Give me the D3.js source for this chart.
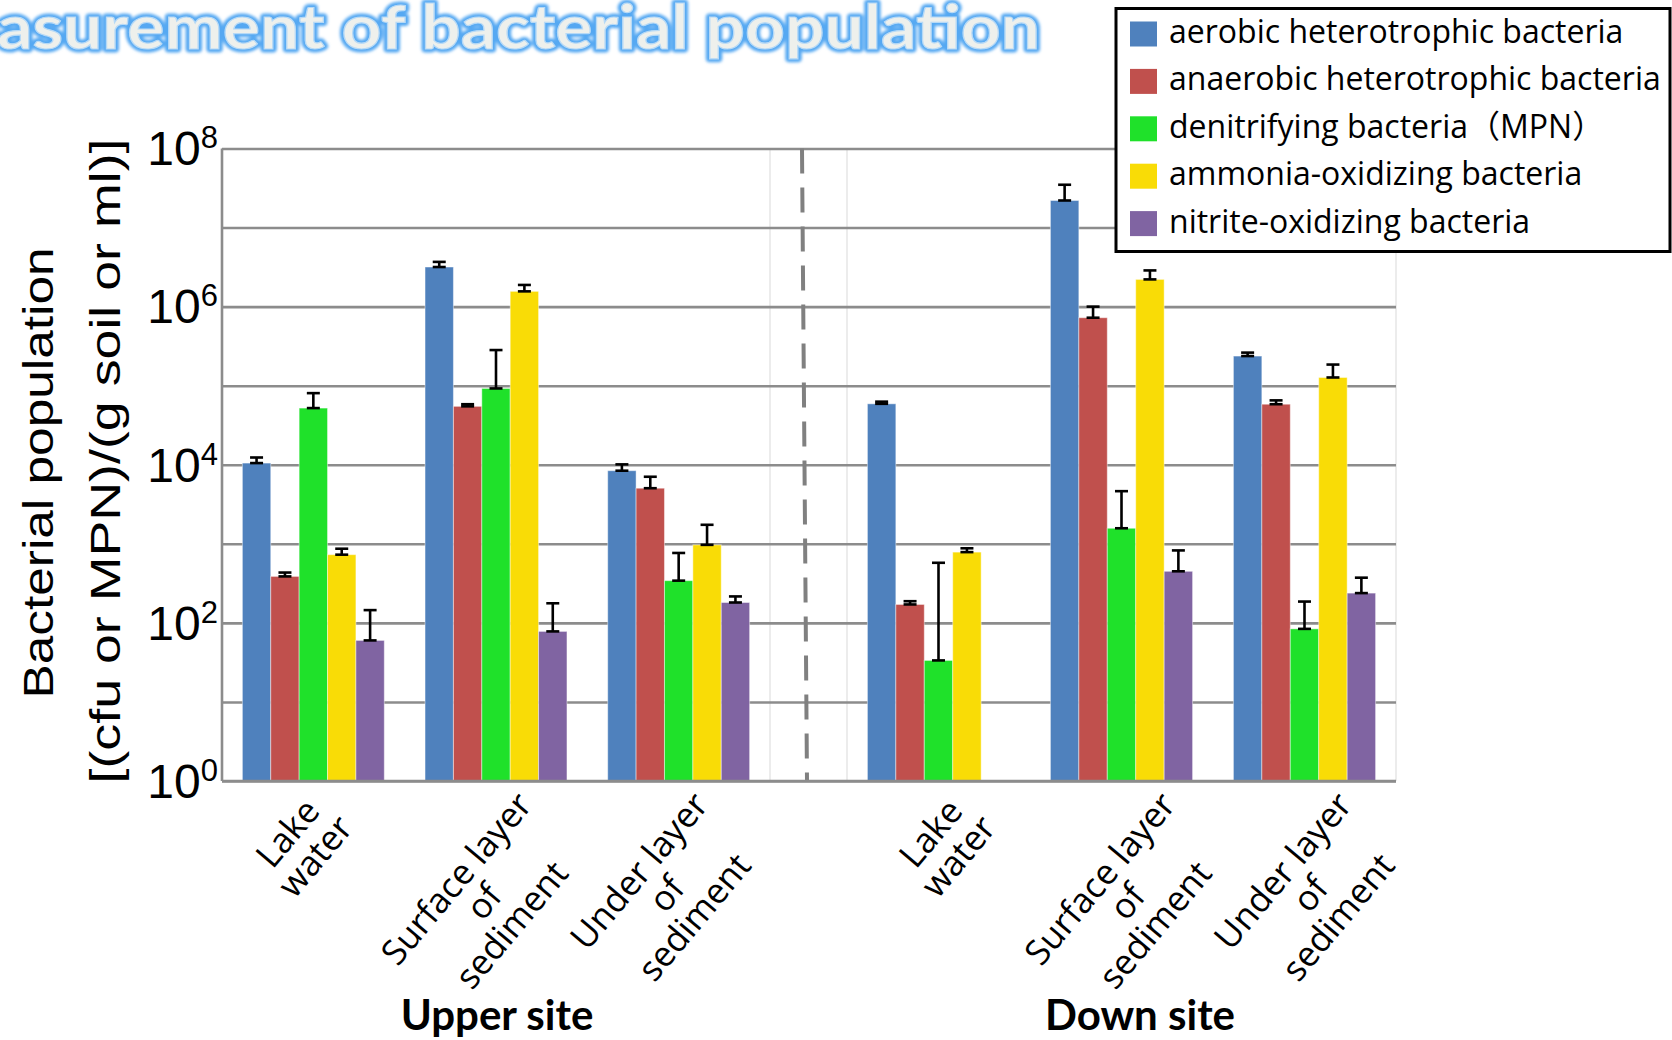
<!DOCTYPE html>
<html><head><meta charset="utf-8">
<script src="https://cdn.jsdelivr.net/npm/d3@7"></script>
<style>body{margin:0;background:#fff;overflow:hidden} svg{display:block}</style>
</head><body>
<svg id="c" width="1672" height="1040"></svg>
<script>
// ---------- data ----------
const titleText = "Measurement of bacterial population";
const categories = ["Lake water", "Surface layer of sediment", "Under layer of sediment"];
const categoryLines = [["Lake", "water"], ["Surface layer", "of", "sediment"], ["Under layer", "of", "sediment"]];
const sites = ["Upper site", "Down site"];
const series = ["aerobic heterotrophic bacteria", "anaerobic heterotrophic bacteria",
  "denitrifying bacteria（MPN）", "ammonia-oxidizing bacteria", "nitrite-oxidizing bacteria"];
const seriesColors = ["#4f81bd", "#c0504d", "#1fe12a", "#f9dc06", "#8064a2"];
// values per category (rows) and series (columns)
const upperValues = [
  [10500, 387, 52100, 729, 60],
  [3170000, 54800, 92300, 1560000, 78],
  [8410, 5050, 342, 970, 181]
];
const upperErrors = [
  [1850, 46, 28400, 138, 85],
  [510000, 3500, 190000, 320000, 99],
  [1700, 2000, 424, 770, 35]
];
const downValues = [
  [59000, 171, 33.5, 785, null],
  [22000000, 724000, 1573, 2210000, 449],
  [237000, 58300, 84, 127000, 238]
];
const downErrors = [
  [3800, 17, 542, 93, null],
  [12800000, 276000, 3060, 660000, 376],
  [25000, 6900, 102, 58000, 135]
];
const decades = [1, 1e1, 1e2, 1e3, 1e4, 1e5, 1e6, 1e7, 1e8];
const labelledDecades = [1, 1e2, 1e4, 1e6, 1e8];
const yTitle = ["Bacterial population", "[(cfu or MPN)/(g soil or ml)]"];

// ---------- layout ----------
const svg = d3.select("#c");
const plotL = 222, plotR = 1396, plotT = 148.5, plotB = 781;
const y = d3.scaleLog().domain([1, 1e8]).range([plotB, plotT]);
const panels = [
  {site: sites[0], values: upperValues, errors: upperErrors, range: [222, 770], labelX: 497, labelOff: -12},
  {site: sites[1], values: downValues, errors: downErrors, range: [847, 1396], labelX: 1140, labelOff: 6}
];

// title (WordArt-like)
const defs = svg.append("defs");
const f = defs.append("filter").attr("id", "glow").attr("x", "-5%").attr("y", "-20%").attr("width", "110%").attr("height", "140%");
f.append("feGaussianBlur").attr("stdDeviation", 1.4);
const titleG = svg.append("g");
const tBack = titleG.append("text").text(titleText)
  .attr("x", 1040).attr("y", 49).attr("text-anchor", "end")
  .attr("font-family", "Lato, 'Open Sans', sans-serif").attr("font-weight", 700).attr("font-size", 62)
  .attr("fill", "#5aaaf0").attr("stroke", "#55a8f2").attr("stroke-width", 7).attr("stroke-linejoin", "round")
  .attr("filter", "url(#glow)");
const tFront = titleG.append("text").text(titleText)
  .attr("x", 1040).attr("y", 49).attr("text-anchor", "end")
  .attr("font-family", "Lato, 'Open Sans', sans-serif").attr("font-weight", 700).attr("font-size", 62)
  .attr("fill", "#eef0ec").attr("stroke", "#b6d9f6").attr("stroke-width", 1.2);
{
  const full = tFront.node().getComputedTextLength();
  const me = tFront.node().getSubStringLength(0, 2);
  const sx = 1043 / (full - me);
  titleG.attr("transform", `translate(1040,0) scale(${sx},1) translate(-1040,0)`);
}

// faint panel borders
svg.append("g").selectAll("line").data([770, 847, plotR]).join("line")
  .attr("x1", d => d).attr("x2", d => d).attr("y1", plotT).attr("y2", plotB)
  .attr("stroke", "#e6e6e6").attr("stroke-width", 1.5);

// gridlines
const grid = svg.append("g").attr("transform", `translate(${plotL},0)`)
  .call(d3.axisRight(y).tickValues(decades).tickSize(plotR - plotL).tickFormat(""));
grid.select(".domain").remove();
grid.selectAll("line").attr("stroke", "#8c8c8c").attr("stroke-width", 2.6);

// y axis line + labels
svg.append("line").attr("x1", plotL).attr("x2", plotL).attr("y1", plotT).attr("y2", plotB)
  .attr("stroke", "#8c8c8c").attr("stroke-width", 2.6);
const yAx = svg.append("g").attr("transform", `translate(${plotL},0)`)
  .call(d3.axisLeft(y).tickValues(labelledDecades).tickSize(0).tickPadding(4));
yAx.select(".domain").remove();
yAx.selectAll("text")
  .attr("font-family", "'Liberation Sans', Arial, sans-serif").attr("font-size", 48).attr("fill", "#000")
  .attr("dy", "0.34em")
  .each(function (d) {
    const t = d3.select(this); t.text(null);
    t.append("tspan").text("10");
    t.append("tspan").attr("font-size", 31).attr("dy", -17).text(Math.round(Math.log10(d)));
  });

// y title
svg.append("g").selectAll("text").data(yTitle).join("text")
  .attr("transform", (d, i) => i === 0 ? "translate(53,473) rotate(-90)" : "translate(120,461) rotate(-90)")
  .attr("text-anchor", "middle")
  .attr("font-family", "'Liberation Sans', Arial, sans-serif").attr("font-size", 42)
  .attr("textLength", (d, i) => i === 0 ? 451 : 645).attr("lengthAdjust", "spacingAndGlyphs")
  .text(d => d);

// dashed separator
svg.append("line").attr("x1", 802).attr("y1", plotT).attr("x2", 807).attr("y2", plotB)
  .attr("stroke", "#808080").attr("stroke-width", 4).attr("stroke-dasharray", "25 14");

// bars
panels.forEach(p => {
  const x0 = d3.scaleBand().domain(categories).range(p.range).paddingInner(0.223).paddingOuter(0.1115);
  const x1 = d3.scaleBand().domain(series).range([0, x0.bandwidth()]);
  const data = [];
  categories.forEach((c, ci) => series.forEach((s, si) => {
    const v = p.values[ci][si];
    if (v != null) data.push({c, s, si, v, e: p.errors[ci][si]});
  }));
  const g = svg.append("g");
  g.selectAll("rect").data(data).join("rect")
    .attr("x", d => x0(d.c) + x1(d.s)).attr("width", x1.bandwidth())
    .attr("y", d => y(d.v)).attr("height", d => y(1) - y(d.v))
    .attr("fill", d => seriesColors[d.si])
    .attr("stroke", "rgba(255,255,255,0.45)").attr("stroke-width", 1);
  const eb = g.selectAll("g.err").data(data).join("g").attr("class", "err")
    .attr("stroke", "#000").attr("stroke-width", 2.6);
  const cx = d => x0(d.c) + x1(d.s) + x1.bandwidth() / 2;
  eb.append("line").attr("x1", cx).attr("x2", cx).attr("y1", d => y(d.v)).attr("y2", d => y(d.v + d.e));
  eb.append("line").attr("x1", d => cx(d) - 6.5).attr("x2", d => cx(d) + 6.5).attr("y1", d => y(d.v + d.e)).attr("y2", d => y(d.v + d.e));
  eb.append("line").attr("x1", d => cx(d) - 6.5).attr("x2", d => cx(d) + 6.5).attr("y1", d => y(d.v)).attr("y2", d => y(d.v));

  // category labels (rotated, multi-line centred)
  const fs = 35, L = 36, ang = 50, rad = ang * Math.PI / 180;
  categories.forEach((c, ci) => {
    const gx = x0(c) + x0.bandwidth() / 2;
    const lines = categoryLines[ci], n = lines.length;
    const lg = svg.append("g");
    const texts = lg.selectAll("text").data(lines).join("text")
      .attr("font-family", "'Open Sans', sans-serif").attr("font-size", fs).attr("fill", "#000")
      .attr("text-anchor", "middle").attr("x", 0)
      .attr("y", (d, i) => (i - (n - 1) / 2) * L + fs * 0.35)
      .text(d => d);
    let w = 0; texts.each(function () { w = Math.max(w, this.getComputedTextLength()); });
    const cy = 786 + (w / 2) * Math.sin(rad) + (n * L / 2) * Math.cos(rad);
    lg.attr("transform", `translate(${gx + p.labelOff},${cy}) rotate(${-ang})`);
  });

  // site label
  svg.append("text").attr("x", p.labelX).attr("y", 1030).attr("text-anchor", "middle")
    .attr("font-family", "Lato, 'Open Sans', sans-serif").attr("font-weight", 700).attr("font-size", 42)
    .text(p.site);
});

// axis baseline on top
svg.append("line").attr("x1", plotL).attr("x2", plotR).attr("y1", plotB).attr("y2", plotB)
  .attr("stroke", "#8c8c8c").attr("stroke-width", 2.6);

// legend
const lg = svg.append("g");
lg.append("rect").attr("x", 1116).attr("y", 8.5).attr("width", 554).attr("height", 243)
  .attr("fill", "#fff").attr("stroke", "#000").attr("stroke-width", 3);
const rows = lg.selectAll("g.row").data(series).join("g").attr("class", "row")
  .attr("transform", (d, i) => `translate(0,${34 + i * 47.4})`);
rows.append("rect").attr("x", 1130).attr("y", -12.5).attr("width", 27).attr("height", 25)
  .attr("fill", (d, i) => seriesColors[i]);
rows.append("text").attr("x", 1169).attr("y", 9)
  .attr("font-family", "'Open Sans', 'Noto Sans CJK JP', sans-serif").attr("font-size", 32)
  .text(d => d);
</script>
</body></html>
